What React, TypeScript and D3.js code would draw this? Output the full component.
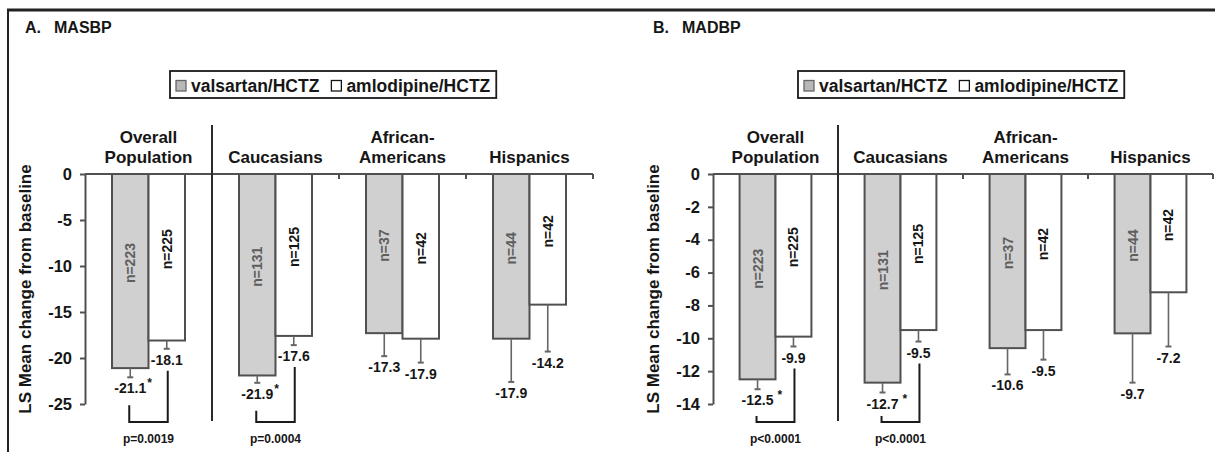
import React, { useEffect, useRef } from 'react';
import * as d3 from 'd3';

const groups = ['Overall Population', 'Caucasians', 'African-Americans', 'Hispanics'];
const groupLines = [['Overall', 'Population'], ['Caucasians'], ['African-', 'Americans'], ['Hispanics']];
const series = ['valsartan/HCTZ', 'amlodipine/HCTZ'];

const nValsartan = [223, 131, 37, 44];
const nAmlodipine = [225, 125, 42, 42];

// A. MASBP
const masbpValsartan = [-21.1, -21.9, -17.3, -17.9];
const masbpAmlodipine = [-18.1, -17.6, -17.9, -14.2];
const masbpValsartanErr = [1.0, 0.8, 2.5, 4.7];
const masbpAmlodipineErr = [0.9, 1.0, 2.6, 5.1];
const masbpP = ['p=0.0019', 'p=0.0004', null, null];
const masbpTicks = [0, -5, -10, -15, -20, -25];

// B. MADBP
const madbpValsartan = [-12.5, -12.7, -10.6, -9.7];
const madbpAmlodipine = [-9.9, -9.5, -9.5, -7.2];
const madbpValsartanErr = [0.6, 0.6, 1.6, 3.0];
const madbpAmlodipineErr = [0.6, 0.7, 1.8, 3.3];
const madbpP = ['p<0.0001', 'p<0.0001', null, null];
const madbpTicks = [0, -2, -4, -6, -8, -10, -12, -14];

const FONT = '"Liberation Sans", Arial, sans-serif';
const INK = '#161616';
const GRAY = '#d0d0d0';
const EDGE = '#505050';

// plain hyphen instead of unicode minus, like the original figure
const fmtTick = (d) => String(d);
const fmtVal = (d) => d.toFixed(1);

function drawPanel(svg, cfg) {
  const g = svg.append('g').style('font-family', FONT).style('font-weight', 'bold');
  const y = d3.scaleLinear().domain([0, cfg.ticks[cfg.ticks.length - 1]]).range([174, 404]);
  const x = d3.scaleBand().domain(groups).range([cfg.ox, cfg.ox + cfg.width]);
  const xs = d3.scaleBand().domain(series).range([0, x.bandwidth()]).paddingOuter(0.74);

  // title
  const t = g.append('text').attr('x', cfg.ox - 60).attr('y', 33).attr('font-size', 16).attr('fill', INK);
  t.append('tspan').text(cfg.letter);
  t.append('tspan').attr('x', cfg.ox - 31).text(cfg.title);

  // legend
  const lx = cfg.ox + 85;
  const box = g.append('rect').attr('x', lx).attr('y', 71).attr('height', 27)
    .attr('fill', 'white').attr('stroke', '#1a1a1a').attr('stroke-width', 1.8);
  let cx = lx + 6;
  series.forEach((s, i) => {
    g.append('rect').attr('x', cx).attr('y', 80.5).attr('width', 10).attr('height', 10.5)
      .attr('fill', i === 0 ? '#b8b8b8' : 'white').attr('stroke', i === 0 ? '#666' : INK).attr('stroke-width', 1.3);
    const lt = g.append('text').attr('x', cx + 15).attr('y', 92).attr('font-size', 17.5).attr('fill', INK).text(s);
    cx = cx + 15 + lt.node().getComputedTextLength() + 12;
  });
  box.attr('width', cx - lx - 6);

  // group labels
  groups.forEach((grp, i) => {
    const lines = groupLines[i];
    const c = x(grp) + x.bandwidth() / 2;
    lines.forEach((ln, j) => {
      g.append('text').attr('x', c).attr('y', 163 - (lines.length - 1 - j) * 20)
        .attr('text-anchor', 'middle').attr('font-size', 17).attr('fill', INK).text(ln);
    });
  });

  // y axis
  const ax = g.append('g').attr('transform', `translate(${cfg.ox},0)`)
    .call(d3.axisLeft(y).tickValues(cfg.ticks).tickSize(5).tickSizeOuter(0).tickPadding(8).tickFormat(fmtTick));
  ax.select('.domain').attr('stroke', EDGE).attr('stroke-width', 2);
  ax.selectAll('.tick line').attr('stroke', EDGE).attr('stroke-width', 2);
  ax.selectAll('.tick text').attr('font-size', 16.5).attr('font-family', FONT).attr('font-weight', 'bold').attr('fill', INK);

  g.append('text')
    .attr('transform', `translate(${cfg.ox - 54},${(y.range()[0] + y.range()[1]) / 2}) rotate(-90)`)
    .attr('text-anchor', 'middle').attr('font-size', 17).attr('fill', INK)
    .text('LS Mean change from baseline');

  // bars
  const vals = [cfg.gray, cfg.white];
  const errs = [cfg.grayErr, cfg.whiteErr];
  const ns = [nValsartan, nAmlodipine];
  groups.forEach((grp, i) => {
    series.forEach((s, k) => {
      const v = vals[k][i];
      const bx = x(grp) + xs(s);
      const bc = bx + xs.bandwidth() / 2;
      g.append('rect').attr('x', bx).attr('y', y(0)).attr('width', xs.bandwidth()).attr('height', y(v) - y(0))
        .attr('fill', k === 0 ? GRAY : 'white').attr('stroke', EDGE).attr('stroke-width', 2);
      const ye = y(v - errs[k][i]);
      g.append('line').attr('x1', bc).attr('x2', bc).attr('y1', y(v)).attr('y2', ye)
        .attr('stroke', '#666').attr('stroke-width', 1.6);
      g.append('line').attr('x1', bc - 3).attr('x2', bc + 3).attr('y1', ye).attr('y2', ye)
        .attr('stroke', '#666').attr('stroke-width', 2);
      const cy = (y(0) + y(v)) / 2 - 8;
      g.append('text').attr('transform', `translate(${bc + 5},${cy}) rotate(-90)`)
        .attr('text-anchor', 'middle').attr('font-size', 14)
        .attr('fill', k === 0 ? '#5e5e5e' : INK).text(`n=${ns[k][i]}`);
      const vt = g.append('text').attr('x', bc).attr('y', ye + 16).attr('text-anchor', 'middle')
        .attr('font-size', 14).attr('fill', INK).text(fmtVal(v));
      if (k === 0 && cfg.p[i]) {
        const w = vt.node().getComputedTextLength();
        g.append('text').attr('x', bc + w / 2 + cfg.starGap).attr('y', ye + 10)
          .attr('font-size', 12).attr('fill', INK).text('*');
      }
    });
  });

  // x axis line and boundary ticks
  g.append('line').attr('x1', cfg.ox).attr('x2', cfg.ox + cfg.width).attr('y1', y(0)).attr('y2', y(0))
    .attr('stroke', EDGE).attr('stroke-width', 2);
  groups.forEach((grp) => {
    const bx = x(grp) + x.bandwidth();
    g.append('line').attr('x1', bx).attr('x2', bx).attr('y1', y(0)).attr('y2', y(0) + 5)
      .attr('stroke', EDGE).attr('stroke-width', 2);
  });
  const dx = x(groups[1]);
  g.append('line').attr('x1', dx).attr('x2', dx).attr('y1', 125).attr('y2', 421)
    .attr('stroke', '#2a2a2a').attr('stroke-width', 2);

  // significance brackets
  groups.forEach((grp, i) => {
    if (!cfg.p[i]) return;
    const gc = x(grp) + xs(series[0]) + xs.bandwidth() / 2;
    const wc = x(grp) + xs(series[1]) + xs.bandwidth() / 2;
    const bottom = 422;
    const lTop = Math.min(y(cfg.gray[i] - cfg.grayErr[i]) + 28, bottom - 6);
    const rTop = y(cfg.white[i] - cfg.whiteErr[i]) + 22;
    g.append('path').attr('d', `M${gc - 1},${lTop}V${bottom}H${wc + 1}V${rTop}`)
      .attr('fill', 'none').attr('stroke', '#1a1a1a').attr('stroke-width', 2);
    g.append('text').attr('x', x(grp) + x.bandwidth() / 2).attr('y', 443).attr('text-anchor', 'middle')
      .attr('font-size', 12).attr('fill', INK).text(cfg.p[i]);
  });
}

export default function App() {
  const ref = useRef(null);
  useEffect(() => {
    const svg = d3.select(ref.current);
    svg.selectAll('*').remove();
    svg.append('rect').attr('width', 1215).attr('height', 452).attr('fill', 'white');
    svg.append('line').attr('x1', 7).attr('x2', 1215).attr('y1', 10).attr('y2', 10)
      .attr('stroke', '#222').attr('stroke-width', 3);
    svg.append('line').attr('x1', 8).attr('x2', 8).attr('y1', 9).attr('y2', 452)
      .attr('stroke', '#222').attr('stroke-width', 2);
    drawPanel(svg, {
      ox: 85, width: 508, letter: 'A.', title: 'MASBP', ticks: masbpTicks,
      gray: masbpValsartan, white: masbpAmlodipine, grayErr: masbpValsartanErr, whiteErr: masbpAmlodipineErr,
      p: masbpP, starGap: 1,
    });
    drawPanel(svg, {
      ox: 713, width: 500, letter: 'B.', title: 'MADBP', ticks: madbpTicks,
      gray: madbpValsartan, white: madbpAmlodipine, grayErr: madbpValsartanErr, whiteErr: madbpAmlodipineErr,
      p: madbpP, starGap: 4,
    });
  }, []);
  return (
    <svg ref={ref} width={1215} height={452}
      style={{ position: 'absolute', left: 0, top: 0, display: 'block' }} />
  );
}
